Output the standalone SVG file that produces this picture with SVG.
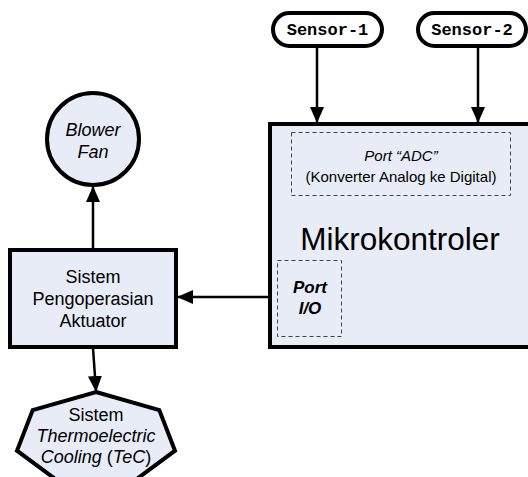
<svg xmlns="http://www.w3.org/2000/svg" width="528" height="477" viewBox="0 0 528 477">
<defs>
<style>
.node{fill:#e7ecf6;stroke:#000;stroke-width:4;stroke-linejoin:miter}
.pill{fill:#fff;stroke:#000;stroke-width:4}
.dash{fill:none;stroke:#444;stroke-width:1;stroke-dasharray:4 3}
.t{font-family:"Liberation Sans",Arial,sans-serif;fill:#000;text-anchor:middle}
.mono{font-family:"Liberation Mono","Courier New",monospace;font-weight:bold;font-size:17px;fill:#000;text-anchor:middle}
.edge{stroke:#000;stroke-width:2.5;fill:none}
</style>
<marker id="ah" viewBox="0 0 16 14" refX="15" refY="7" markerWidth="16" markerHeight="14" markerUnits="userSpaceOnUse" orient="auto">
<path d="M0,0 L16,7 L0,14 Z" fill="#000"/>
</marker>
</defs>

<g id="connectors">
<line class="edge" x1="317" y1="47" x2="317" y2="122" marker-end="url(#ah)"/>
<line class="edge" x1="478" y1="47" x2="478" y2="122" marker-end="url(#ah)"/>
<line class="edge" x1="270" y1="297" x2="178" y2="297" marker-end="url(#ah)"/>
<line class="edge" x1="93" y1="250" x2="93" y2="187" marker-end="url(#ah)"/>
<line class="edge" x1="93" y1="348" x2="96" y2="391" marker-end="url(#ah)"/>
</g>

<g id="sensor1">
<rect class="pill" x="273" y="13" width="109" height="33" rx="16.5"/>
<text class="mono" x="327.5" y="35">Sensor-1</text>
</g>

<g id="sensor2">
<rect class="pill" x="418" y="13" width="108" height="33" rx="16.5"/>
<text class="mono" x="472" y="35">Sensor-2</text>
</g>

<g id="mikrokontroler">
<rect class="node" x="270" y="124" width="280" height="223"/>
<rect class="dash" x="291.5" y="132.5" width="219" height="63"/>
<text class="t" x="401" y="161" font-size="15" font-style="italic">Port “ADC”</text>
<text class="t" x="401" y="182" font-size="15">(Konverter Analog ke Digital)</text>
<text class="t" x="400" y="250" font-size="31.5">Mikrokontroler</text>
<rect class="dash" x="277.5" y="260.5" width="64" height="76"/>
<text class="t" x="310" y="293" font-size="17" font-weight="bold" font-style="italic">Port</text>
<text class="t" x="310" y="314" font-size="17" font-weight="bold" font-style="italic">I/O</text>
</g>

<g id="aktuator">
<rect class="node" x="10" y="250" width="166" height="97"/>
<text class="t" x="93" y="283" font-size="18">Sistem</text>
<text class="t" x="93" y="305" font-size="18">Pengoperasian</text>
<text class="t" x="93" y="327" font-size="18">Aktuator</text>
</g>

<g id="blower">
<circle class="node" cx="93" cy="139" r="46"/>
<text class="t" x="93" y="136" font-size="18" font-style="italic">Blower</text>
<text class="t" x="93" y="158" font-size="18" font-style="italic">Fan</text>
</g>

<g id="tec">
<polygon class="node" points="96,392 159.3,410.1 175,450.7 131.1,483.2 60.9,483.2 17,450.7 32.7,410.1"/>
<text class="t" x="96" y="421" font-size="18">Sistem</text>
<text class="t" x="96" y="442" font-size="18" font-style="italic">Thermoelectric</text>
<text class="t" x="96" y="463" font-size="18"><tspan font-style="italic">Cooling</tspan> (<tspan font-style="italic">TeC</tspan>)</text>
</g>
</svg>
